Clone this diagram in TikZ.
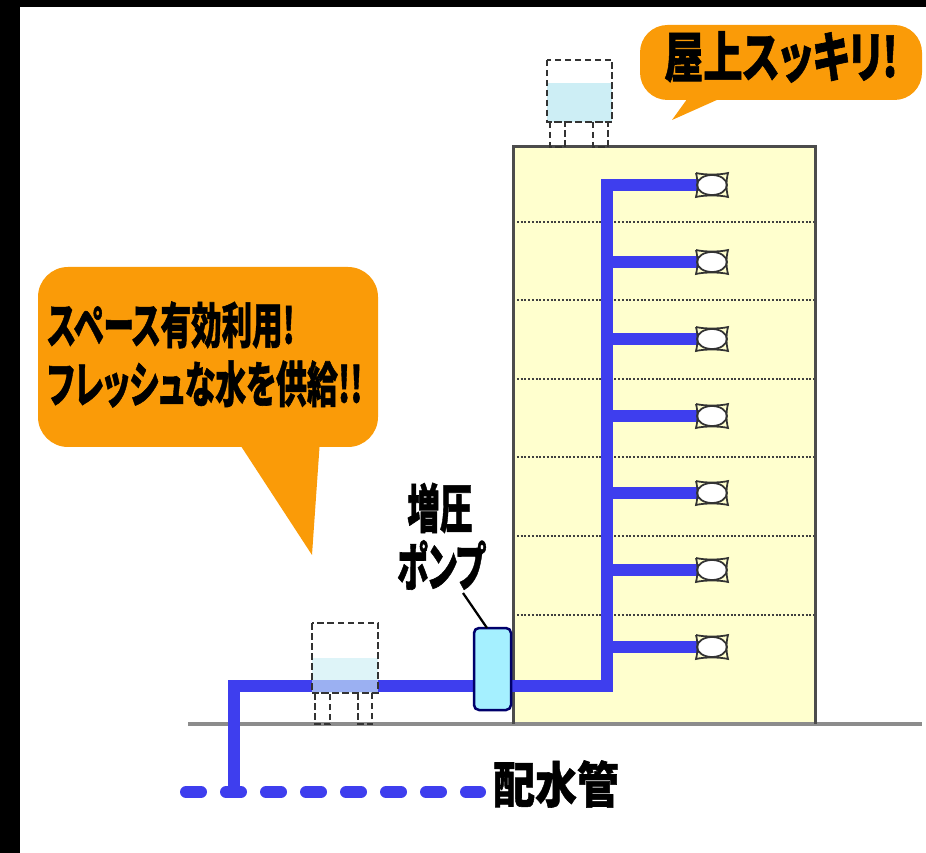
\documentclass[tikz,border=0pt]{standalone}
\usepackage{fontspec}
\usepackage{graphicx}
\newfontfamily\jp{Noto Sans CJK JP}[RawFeature=+palt,BoldFeatures={FakeBold=1.2}]
\definecolor{pipeblue}{RGB}{62,62,238}
\definecolor{bubble}{RGB}{250,155,8}
\definecolor{wall}{RGB}{255,255,206}
\definecolor{water}{RGB}{205,238,245}
\definecolor{pumpcyan}{RGB}{165,240,255}
% condensed bold label: size, x-squeeze, text
\newcommand\jtxt[3]{\scalebox{#2}[1]{\jp\bfseries\fontsize{#1}{#1}\selectfont #3}}
\begin{document}
\begin{tikzpicture}[x=0.2mm,y=-0.2mm]
\useasboundingbox (0,0) rectangle (926,853);
\global\def\pipedraw{\draw[line width=2.4mm,pipeblue]}
\global\def\tankdraw{\draw[line width=0.45mm,black!80,dash pattern=on 1.3mm off 0.7mm]}
\fill[black] (0,0) rectangle (20,853);
\fill[black] (0,0) rectangle (926,7);
% speech bubbles
\fill[bubble,rounded corners=6mm] (38,267) rectangle (378,447);
\fill[bubble] (237,440) -- (312,555) -- (320,440) -- cycle;
\fill[bubble,rounded corners=5.5mm] (640,25) rectangle (922,100);
\fill[bubble] (690,95) -- (672,120) -- (728,95) -- cycle;
% building and floors
\fill[wall] (513,147) rectangle (815,724);
\foreach \y in {222,300.5,379,457.5,536,614.5}
  \draw[black!75,line width=0.4mm,dash pattern=on 0.4mm off 0.35mm] (513,\y) -- (815,\y);
\draw[black!45,line width=0.7mm] (188,724) -- (922,724);
\draw[black!70,line width=0.6mm] (513,724) -- (513,147) -- (815,147) -- (815,724);
% tank on the roof
\fill[water] (547,83) rectangle (612,122);
\tankdraw (547,60) rectangle (612,122);
\tankdraw (550,122) rectangle (565,147);
\tankdraw (593,122) rectangle (608,147);
% pipes
\pipedraw (700,185) -- (607,185) -- (607,686) -- (234,686) -- (234,792);
\foreach \y in {262,339,416,493,570,647}
  \pipedraw (607,\y) -- (700,\y);
\pipedraw[line cap=round,dash pattern=on 3mm off 5mm] (186,792) -- (480,792);
% tank on the ground
\fill[water,fill opacity=0.65] (312,658) rectangle (378,693);
\tankdraw (312,623) rectangle (378,693);
\tankdraw (315,693) rectangle (330,724);
\tankdraw (358,693) rectangle (372,724);
% booster pump
\draw[fill=pumpcyan,draw=black!30!blue!60!black,line width=0.5mm,rounded corners=1mm]
  (474,628) rectangle (511,710);
\draw[line width=0.45mm] (487,628) -- (463,593);
% taps
\foreach \y in {185,262,339,416,493,570,647}{
  \draw[black!80,line width=0.35mm,fill=white] (712,\y) ellipse (15 and 10);
  \draw[black!80,line width=0.35mm] (696,\y-12) .. controls (704,\y-10) and (720,\y-10) .. (728,\y-12)
    .. controls (726,\y-4) and (726,\y+4) .. (728,\y+12)
    .. controls (720,\y+10) and (704,\y+10) .. (696,\y+12)
    .. controls (698,\y+4) and (698,\y-4) .. (696,\y-12);
}
% labels
\draw (47,325) node[anchor=west,inner sep=0]{\jtxt{28}{0.62}{スペース有効利用!}};
\draw (47,384) node[anchor=west,inner sep=0]{\jtxt{28}{0.63}{フレッシュな水を供給!!}};
\draw (781,57) node[inner sep=0]{\jtxt{31}{0.72}{屋上スッキリ!}};
\draw (440,508) node[inner sep=0]{\jtxt{30}{0.62}{増圧}};
\draw (441,565) node[inner sep=0]{\jtxt{30}{0.60}{ポンプ}};
\draw (556,784) node[inner sep=0]{\jtxt{28}{0.85}{配水管}};
\end{tikzpicture}
\end{document}
